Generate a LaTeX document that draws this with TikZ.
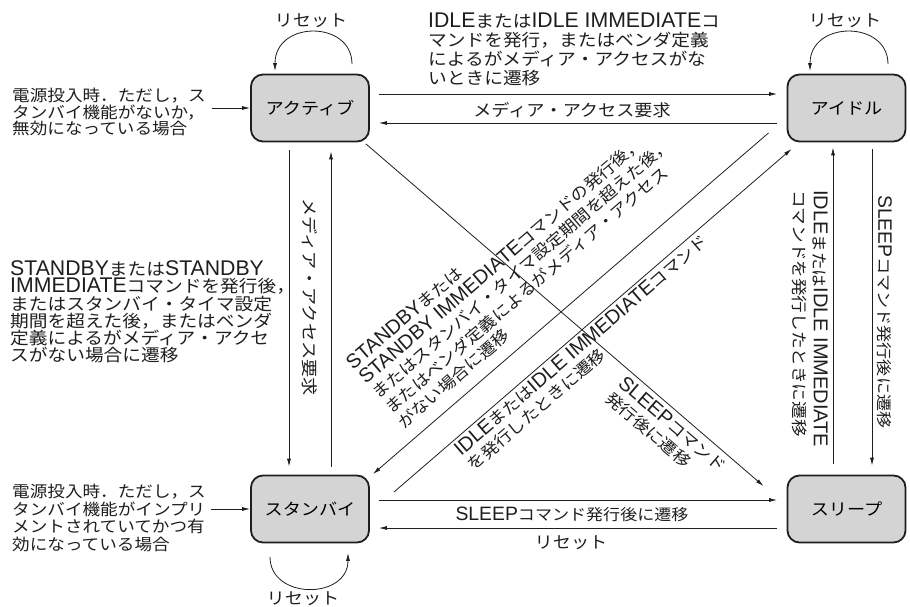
\documentclass[tikz,border=0pt]{standalone}
\usepackage{fontspec}
\setmainfont[FakeStretch=1.1]{Noto Sans CJK JP}
\newfontfamily\enfont[Scale=1.25]{Liberation Sans}
\newcommand\eng[1]{{\enfont #1}}
\usetikzlibrary{arrows.meta,calc}
\definecolor{boxgray}{HTML}{D4D4D4}
\definecolor{ink}{HTML}{1E1E1E}
\tikzset{
  state/.style={draw=ink, line width=1.8pt, fill=boxgray, rounded corners=12pt,
    minimum width=118pt, minimum height=67pt, inner sep=0pt,
    font=\fontsize{16.5}{18}\selectfont},
  arr/.style={-{Latex[length=8pt,width=4pt]}, line width=0.8pt, draw=ink},
  lbl/.style={inner sep=0pt, align=left, text=ink, font=\fontsize{16}{19.5}\selectfont},
  txt/.style={inner sep=0pt, text=ink, font=\fontsize{16.5}{18}\selectfont},
}
\begin{document}
\begin{tikzpicture}[x=1pt,y=-1pt]
\useasboundingbox (0,0) rectangle (910,607);
% states
\node[state] (act) at (310,108) {アクティブ};
\node[state] (idl) at (846.5,108) {アイドル};
\node[state] (stb) at (310,509) {スタンバイ};
\node[state] (slp) at (846.5,509) {スリープ};
% horizontal connectors
\draw[arr] ($(act.east)+(9,-14)$) -- ($(idl.west)+(-9.5,-14)$);
\draw[arr] ($(idl.west)+(-9.5,15)$) -- ($(act.east)+(9,15)$);
\draw[arr] ($(stb.east)+(9,-9)$) -- ($(slp.west)+(-9.5,-9)$);
\draw[arr] ($(slp.west)+(-9.5,19)$) -- ($(stb.east)+(9,19)$);
% vertical connectors
\draw[arr] ($(act.south)+(-21,8)$) -- ($(stb.north)+(-21,-8)$);
\draw[arr] ($(stb.north)+(21,-8)$) -- ($(act.south)+(21,9)$);
\draw[arr] ($(idl.south)+(25.5,7)$) -- ($(slp.north)+(25.5,-9)$);
\draw[arr] ($(slp.north)+(-13.5,-11)$) -- ($(idl.south)+(-13.5,5)$);
% diagonal connectors
\draw[arr] ($(act.south east)+(-4,1.5)$) -- ($(slp.north west)+(-23,11.5)$);
\draw[arr] ($(idl.south west)+(-18,-9.5)$) -- ($(stb.north east)+(3,-0.5)$);
\draw[arr] ($(stb.north east)+(24,17.5)$) -- ($(idl.south west)+(5,6.5)$);
% self loops
\draw[arr] ($(act.north)+(42,-9.5)$) .. controls +(0,-44) and +(0,-51) .. ($(act.north)+(-35,-2.5)$);
\draw[arr] ($(idl.north)+(41.5,-9.5)$) .. controls +(0,-44) and +(0,-51) .. ($(idl.north)+(-36.5,-2.5)$);
\draw[arr] ($(stb.south)+(-40,13.5)$) .. controls +(0,43) and +(0,47) .. ($(stb.south)+(38,9.5)$);
\node[txt] (r1) at (311,21) {リセット};
\node[txt] (r2) at (845,21) {リセット};
\node[txt] (r3) at (303,599) {リセット};
% entry texts
\node[lbl, font=\fontsize{16}{16.5}\selectfont, anchor=west] (e1) at (12,112) {電源投入時．ただし，ス\\タンバイ機能がないか，\\無効になっている場合};
\coordinate (e1s) at ($(e1.east)+(6,0)$);
\draw[arr] (e1s |- act.west) -- (act.west);
\node[lbl, font=\fontsize{16}{17.5}\selectfont, anchor=west] (e2) at (12,518) {電源投入時．ただし，ス\\タンバイ機能がインプリ\\メントされていてかつ有\\効になっている場合};
\coordinate (e2s) at ($(e2.east)+(5,0)$);
\draw[arr] (e2s |- stb.west) -- (stb.west);
% labels
\node[lbl, font=\fontsize{17}{19}\selectfont, anchor=north west] (tl) at (428,13) {\eng{IDLE}または\eng{IDLE IMMEDIATE}コ\\マンドを発行，またはベンダ定義\\によるがメディア・アクセスがな\\いときに遷移};
\node[txt, font=\fontsize{16.5}{18}\selectfont] (ml) at (572,110) {メディア・アクセス要求};
\node[lbl, font=\fontsize{17}{17.3}\selectfont, anchor=west] (lm) at (10,312) {\eng{STANDBY}または\eng{STANDBY}\\\eng{IMMEDIATE}コマンドを発行後，\\またはスタンバイ・タイマ設定\\期間を超えた後，またはベンダ\\定義によるがメディア・アクセ\\スがない場合に遷移};
\node[txt, font=\fontsize{16.5}{18}\selectfont, rotate=-90, anchor=west] (lv) at (310,198) {メディア・アクセス要求};
\node[txt, font=\fontsize{15.5}{18}\selectfont, rotate=-90, anchor=west] (rv1) at (884.5,195) {\eng{SLEEP}コマンド発行後に遷移};
\node[lbl, font=\fontsize{16}{20}\selectfont, rotate=-90, anchor=west] (rv2) at (810,190) {\eng{IDLE}または\eng{IDLE IMMEDIATE}\\コマンドを発行したときに遷移};
\node[txt, font=\fontsize{15.5}{18}\selectfont] (bl1) at (572,514) {\eng{SLEEP}コマンド発行後に遷移};
\node[txt] (bl2) at (571,543) {リセット};
% diagonal labels
\node[lbl, rotate=40.75, anchor=south west] (d1) at (405,430.6) {\eng{STANDBY}または\\\eng{STANDBY IMMEDIATE}コマンドの発行後，\\またはスタンバイ・タイマ設定期間を超えた後，\\またはベンダ定義によるがメディア・アクセス\\がない場合に遷移};
\node[lbl, rotate=40.75, anchor=north west] (d2) at (451.8,446.3) {\eng{IDLE}または\eng{IDLE IMMEDIATE}コマンド\\を発行したときに遷移};
\node[lbl, rotate=-40.7, anchor=north west] (d3) at (626.3,374.4) {\eng{SLEEP}コマンド\\発行後に遷移};
\end{tikzpicture}
\end{document}
